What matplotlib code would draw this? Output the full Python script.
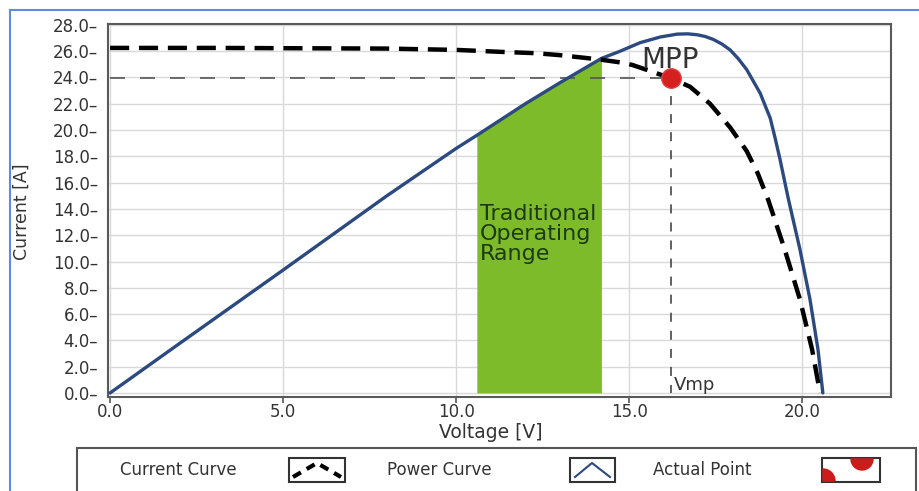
import matplotlib
matplotlib.use("Agg")
import matplotlib.pyplot as plt
import numpy as np
from matplotlib.patches import Rectangle, Wedge

plt.rcParams['font.family'] = ['DejaVu Sans']

# Current curve (I-V)
cur_v = [0.0, 3.0, 6.0, 8.0, 10.0, 11.3, 12.3, 13.0, 13.7, 14.2, 14.74, 15.1, 15.6, 16.2,
         16.76, 17.34, 17.92, 18.4, 18.72, 19.02, 19.5, 19.94, 20.29, 20.52]
cur_i = [26.25, 26.25, 26.22, 26.2, 26.1, 25.95, 25.85, 25.7, 25.5, 25.35, 25.15, 24.95, 24.5, 23.95,
         23.3, 22.0, 20.2, 18.4, 16.7, 14.7, 10.9, 7.1, 3.3, 0.0]

# Power curve (P-V, scaled)
pow_v = [0.0, 2.0, 5.0, 8.0, 10.0, 10.6, 12.0, 13.0, 14.2, 14.74, 15.32, 15.9, 16.39, 16.7,
         16.97, 17.2, 17.43, 17.68, 17.92, 18.15, 18.4, 18.79, 19.08, 19.22, 19.36, 19.6,
         19.94, 20.23, 20.46, 20.6]
pow_p = [0.0, 3.75, 9.35, 15.0, 18.6, 19.6, 22.0, 23.6, 25.45, 26.0, 26.65, 27.08, 27.3, 27.32,
         27.25, 27.12, 26.9, 26.55, 26.1, 25.45, 24.6, 22.8, 20.9, 19.4, 17.8, 14.8,
         10.9, 7.1, 3.3, 0.0]

# Traditional operating range
range_lo, range_hi = 10.6, 14.2
# Maximum power point
vmp, imp = 16.2, 23.97

y_ticks = [0, 2, 4, 6, 8, 10, 12, 14, 16, 18, 20, 22, 24, 26, 28]
x_ticks = [0, 5, 10, 15, 20]

W, H = 920, 491
fig = plt.figure(figsize=(W / 100, H / 100), dpi=100)
fig.patch.set_facecolor('white')

ax = fig.add_axes([108 / W, 1 - 396.5 / H, (891 - 108) / W, (396.5 - 24) / H])
ax.set_xlim(-0.06, 22.57)
ax.set_ylim(-0.27, 28.07)

ax.set_yticks(y_ticks)
ax.set_yticklabels([f"{t:.1f}\u2013" for t in y_ticks])
ax.set_xticks(x_ticks)
ax.set_xticklabels([f"{t:.1f}" for t in x_ticks])
ax.tick_params(axis='y', length=0, pad=7, labelsize=12, labelcolor='#333333')
ax.tick_params(axis='x', length=4, width=1.2, color='#555', pad=1, labelsize=12, labelcolor='#333333')

ax.grid(True, color='#d9d9d9', lw=1.0)
ax.set_axisbelow(True)
for s in ax.spines.values():
    s.set_color('#5a5a5a')
    s.set_linewidth(1.5)

pv = np.array(pow_v)
pp = np.array(pow_p)
mask = (pv >= range_lo) & (pv <= range_hi)
ax.fill_between(pv, 0, pp, where=mask, color='#7dbb2b', lw=0, zorder=2)

ax.plot([0, vmp], [imp, imp], color='#555', lw=1.2, ls=(0, (9, 9)), zorder=3)
ax.plot([vmp, vmp], [imp, 0], color='#555', lw=1.3, ls=(0, (5, 5)), zorder=3)

ax.plot(pow_v, pow_p, color='#2c4a80', lw=2.4, zorder=4, solid_capstyle='round',
        solid_joinstyle='round')
ax.plot(cur_v, cur_i, color='black', lw=3.2, ls=(0, (4.3, 2.2)), zorder=5)
ax.plot([vmp], [imp], 'o', color='#d61f1f', ms=14, mec='#e04040', zorder=6)

ax.text(15.35, 24.75, "MPP", fontsize=20, color='#333333', zorder=7)
ax.text(16.3, 0.2, "Vmp", fontsize=13, color='#333333', zorder=7)
ax.text(10.68, 14.4, "Traditional\nOperating\nRange", fontsize=16, color='#1d3a12',
        va='top', linespacing=1.0, zorder=7)

fig.text(22 / W, 1 - 212 / H, "Current [A]", rotation=90, fontsize=12.5, color='#333333',
         ha='center', va='center')
fig.text(491 / W, 1 - 432 / H, "Voltage [V]", fontsize=13.5, color='#333333',
         ha='center', va='center')

# overlay in pixel coordinates (y measured upward from bottom) for frame and legend
ov = fig.add_axes([0, 0, 1, 1], zorder=10)
ov.set_xlim(0, W)
ov.set_ylim(0, H)
ov.axis('off')
ov.patch.set_alpha(0)

def Y(py):
    return H - py

ov.plot([10, W], [Y(10), Y(10)], color='#5b8ed4', lw=1.5)
ov.plot([10, 10], [Y(10), Y(H)], color='#5b8ed4', lw=1.5)

ov.add_patch(Rectangle((77, Y(448) - 60), 839, 60, fill=False, ec='#555', lw=1.5))

ov.text(120, Y(470), "Current Curve", fontsize=12, color='#333', va='center')
ov.text(387, Y(470), "Power Curve", fontsize=12, color='#333', va='center')
ov.text(653, Y(470), "Actual Point", fontsize=12, color='#333', va='center')

ov.add_patch(Rectangle((289, Y(482)), 56, 24, fill=False, ec='#333', lw=1.5))
ov.plot([293, 317, 341], [Y(477), Y(463), Y(477)], color='black', lw=3, ls=(0, (2.2, 1.6)))
ov.add_patch(Rectangle((570, Y(482)), 45, 24, fill=False, ec='#333', lw=1.5))
ov.plot([575, 592, 610], [Y(477), Y(463), Y(477)], color='#2c4a80', lw=1.5)
ov.add_patch(Rectangle((822, Y(482)), 58, 24, fill=False, ec='#333', lw=1.5))
ov.add_patch(Wedge((823, Y(481)), 12, 0, 90, color='#cc1b1b'))
ov.add_patch(Wedge((862, Y(459)), 11, 180, 360, color='#cc1b1b'))

fig.savefig("out.png", dpi=100)
